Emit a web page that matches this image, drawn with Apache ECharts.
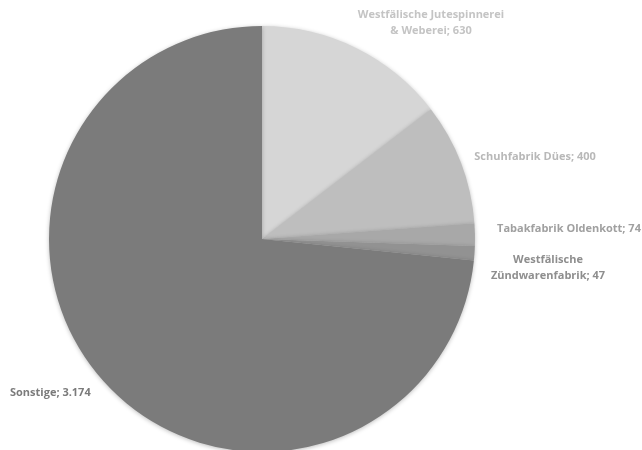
<!DOCTYPE html>
<html><head><meta charset="utf-8">
<script src="https://cdn.jsdelivr.net/npm/echarts@6/dist/echarts.min.js"></script>
<style>html,body{margin:0;padding:0;background:#fff}#c{width:642px;height:450px}</style>
</head><body><div id="c"></div>
<script>
const categories = ["Westfälische Jutespinnerei\n& Weberei", "Schuhfabrik Dües", "Tabakfabrik Oldenkott", "Westfälische\nZündwarenfabrik", "Sonstige"];
const values = [630, 400, 74, 47, 3174];
const valueLabels = ["630", "400", "74", "47", "3.174"];
const colors = ["#d6d6d6", "#bebebe", "#a8a8a8", "#929292", "#7b7b7b"];
const labelColors = ["#c4c4c4", "#b8b8b8", "#a0a0a0", "#8e8e8e", "#7b7b7b"];
const labelPos = [[431, 23, 'center'], [535, 157, 'center'], [569, 229, 'center'], [548, 268, 'center'], [10, 393, 'left']];

const chart = echarts.init(document.getElementById('c'), null, {renderer: 'canvas'});
chart.setOption({
  animation: false,
  series: [{
    type: 'pie',
    center: [262, 239],
    radius: [0, 213],
    startAngle: 90,
    clockwise: true,
    data: categories.map((c, i) => ({
      name: c, value: values[i],
      itemStyle: {color: colors[i]},
      label: {color: labelColors[i], formatter: c + '; ' + valueLabels[i]}
    })),
    itemStyle: {shadowBlur: 4, shadowColor: 'rgba(0,0,0,0.25)', shadowOffsetX: 0, shadowOffsetY: 1},
    label: {show: true, position: 'outside', alignTo: 'none', overflow: 'none', width: 300, fontFamily: 'Open Sans', fontWeight: 'bold', fontSize: 11, lineHeight: 16, textAlign: 'center'},
    labelLine: {show: false},
    labelLayout: function (p) {
      const lp = labelPos[p.dataIndex];
      return {x: lp[0], y: lp[1], align: lp[2], verticalAlign: 'middle', moveOverlap: false, hideOverlap: false};
    },
    emphasis: {disabled: true}
  }]
});
</script></body></html>
